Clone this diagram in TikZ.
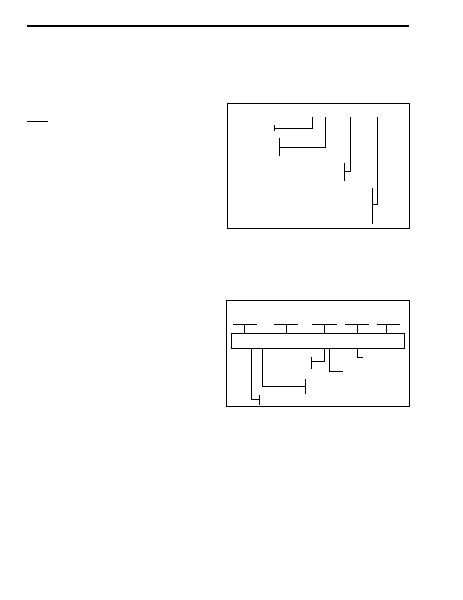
\documentclass[tikz,border=0pt]{standalone}
\tikzset{
  ln/.style={line width=1pt, line cap=butt},
  rule/.style={line width=2pt},
}
\begin{document}
\begin{tikzpicture}[x=1pt,y=-1pt]
\useasboundingbox (0,0) rectangle (463,600);
% header rule
\draw[rule] (27,25.8) -- (409,25.8);
\draw[ln] (27,121.5) -- (48,121.5);
% box 1
\draw[ln] (227.3,103.3) rectangle (409.3,228.7);
\draw[ln] (312.3,117) -- (312.3,128) -- (274.3,128);
\draw[ln] (274.3,125) -- (274.3,130.5);
\draw[ln] (325.3,117) -- (325.3,147) -- (279.3,147);
\draw[ln] (279.3,137.7) -- (279.3,155.7);
\draw[ln] (350,117) -- (350,171.3) -- (344.3,171.3);
\draw[ln] (344.3,163) -- (344.3,180.7);
\draw[ln] (377,117) -- (377,204) -- (372.3,204);
\draw[ln] (372.3,188) -- (372.3,223.7);
% box 2
\draw[ln] (226.7,300) rectangle (409.3,406);
\draw[ln] (231.7,333.3) rectangle (404.3,348.3);
\foreach \a/\s/\b in {233.3/244.3/256.7, 274.3/286.3/297.7, 312.3/324.3/336.7, 345/357.3/368.7, 376.7/386.7/400}{
  \draw[ln] (\a,324) -- (\b,324);
  \draw[ln] (\s,324) -- (\s,333.3);
}
\draw[ln] (251.3,348.3) -- (251.3,399) -- (259.3,399);
\draw[ln] (259.3,395.3) -- (259.3,404.7);
\draw[ln] (262.7,348.3) -- (262.7,386.7) -- (305.7,386.7);
\draw[ln] (305.7,379.3) -- (305.7,393.7);
\draw[ln] (324.3,348.3) -- (324.3,361.7) -- (311.7,361.7);
\draw[ln] (311.7,357.3) -- (311.7,368.7);
\draw[ln] (329.3,348.3) -- (329.3,371) -- (342.7,371);
\draw[ln] (357.3,348.3) -- (357.3,357.3) -- (363.3,357.3);
\end{tikzpicture}
\end{document}
